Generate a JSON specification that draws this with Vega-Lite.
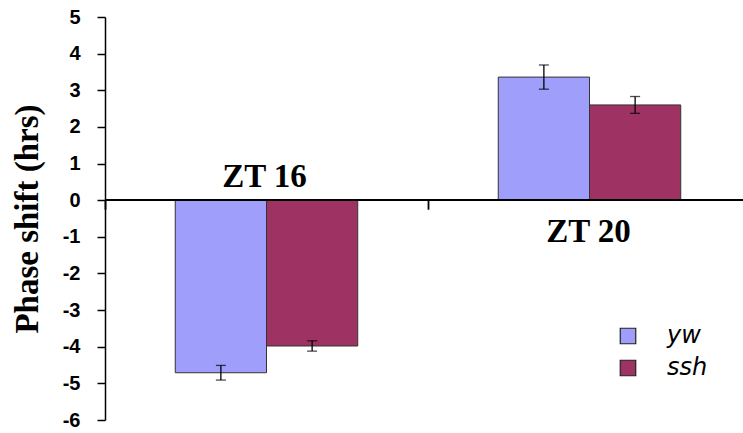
{
  "$schema": "https://vega.github.io/schema/vega-lite/v6.json",
  "autosize": "none",
  "width": 646,
  "height": 403,
  "padding": {"left": 105, "top": 17, "right": 0, "bottom": 13},
  "background": "white",
  "config": {"view": {"stroke": null}},
  "data": {
    "values": [
      {"zt": "ZT 16", "group": "yw", "value": -4.71, "err": 0.2},
      {"zt": "ZT 16", "group": "ssh", "value": -3.98, "err": 0.14},
      {"zt": "ZT 20", "group": "yw", "value": 3.36, "err": 0.33},
      {"zt": "ZT 20", "group": "ssh", "value": 2.6, "err": 0.23}
    ]
  },
  "encoding": {
    "x": {
      "field": "zt", "type": "nominal",
      "scale": {"paddingInner": 0, "paddingOuter": 0},
      "axis": {
        "orient": "bottom",
        "offset": -219.8,
        "domain": false,
        "labels": false,
        "title": null,
        "tickBand": "extent",
        "tickColor": "black",
        "tickWidth": 1.8,
        "tickSize": 9
      }
    },
    "y": {
      "field": "value", "type": "quantitative",
      "scale": {"domain": [-6, 5], "nice": false, "zero": false},
      "axis": {
        "values": [-6, -5, -4, -3, -2, -1, 0, 1, 2, 3, 4, 5],
        "labelExpr": "'' + datum.value",
        "grid": false,
        "domainColor": "black", "domainWidth": 1.5,
        "tickColor": "black", "tickWidth": 1.5, "tickSize": 8,
        "labelFont": "Liberation Sans", "labelFontSize": 20, "labelFontWeight": "bold", "labelColor": "black",
        "labelPadding": 17,
        "title": "Phase shift (hrs)",
        "titleFont": "Liberation Serif", "titleFontSize": 33, "titleFontWeight": "bold",
        "titleColor": "black", "titlePadding": 18
      }
    }
  },
  "layer": [
    {
      "mark": {"type": "bar", "stroke": "#333333", "strokeWidth": 1},
      "encoding": {
        "xOffset": {"field": "group", "type": "nominal", "scale": {"domain": ["yw", "ssh"], "paddingInner": 0, "paddingOuter": 0.77}},
        "color": {
          "field": "group", "type": "nominal",
          "scale": {"domain": ["yw", "ssh"], "range": ["#9f9ffb", "#9e3262"]},
          "legend": {
            "title": null,
            "orient": "none",
            "legendX": 511,
            "legendY": 307,
            "symbolType": "square",
            "symbolSize": 240,
            "symbolStrokeColor": "#222222",
            "symbolStrokeWidth": 1.2,
            "labelFont": "DejaVu Sans",
            "labelFontStyle": "italic",
            "labelFontSize": 24,
            "labelColor": "black",
            "labelOffset": 27,
            "rowPadding": 8
          }
        }
      }
    },
    {
      "mark": {"type": "errorbar", "color": "black", "thickness": 1.3, "ticks": {"size": 10, "thickness": 1.3, "color": "black"}},
      "encoding": {
        "xOffset": {"field": "group", "type": "nominal", "scale": {"domain": ["yw", "ssh"], "paddingInner": 0, "paddingOuter": 0.77}},
        "yError": {"field": "err"}
      }
    },
    {
      "mark": {"type": "rule", "color": "black", "strokeWidth": 1.8},
      "encoding": {"x": {"value": 0}, "x2": {"value": 646}, "y": {"datum": 0}}
    },
    {
      "transform": [{"filter": "datum.group === 'yw' && datum.zt === 'ZT 16'"}],
      "mark": {"type": "text", "font": "Liberation Serif", "fontWeight": "bold", "fontSize": 33, "baseline": "alphabetic", "dy": -13, "dx": -2, "color": "black"},
      "encoding": {
        "y": {"datum": 0},
        "text": {"field": "zt"}
      }
    },
    {
      "transform": [{"filter": "datum.group === 'yw' && datum.zt === 'ZT 20'"}],
      "mark": {"type": "text", "font": "Liberation Serif", "fontWeight": "bold", "fontSize": 33, "baseline": "alphabetic", "dy": 42, "dx": -1, "color": "black"},
      "encoding": {
        "y": {"datum": 0},
        "text": {"field": "zt"}
      }
    }
  ]
}
